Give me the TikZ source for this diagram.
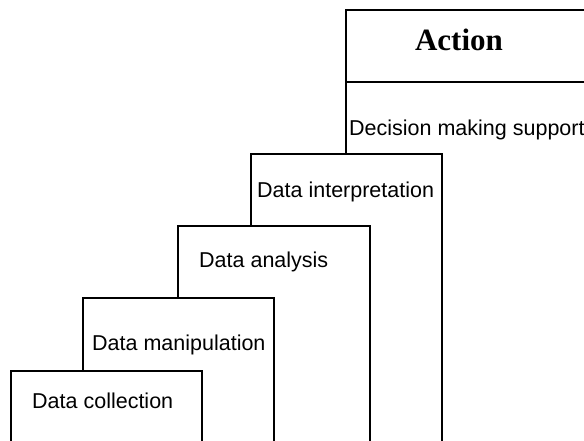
\documentclass[tikz,border=0pt]{standalone}
\usepackage{fontspec}
\setmainfont{Liberation Serif}
\setsansfont{Liberation Sans}

\tikzset{
  stepbox/.style={draw=black, fill=white, line width=1.5pt},
  steptext/.style={anchor=base west, inner sep=0pt, font=\sffamily\fontsize{21.5}{26}\selectfont},
  titletext/.style={anchor=base, inner sep=0pt, font=\bfseries\fontsize{31}{36}\selectfont}
}

\begin{document}
\begin{tikzpicture}[x=1pt,y=1pt,yscale=-1]
    \useasboundingbox (0,0) rectangle (584,441);
    \clip (0,0) rectangle (584,441);
    % steps, back to front
    \draw [stepbox] (346,10) rectangle (600,470);
    \draw [line width=1.5pt] (346,82) -- (600,82);
    \draw [stepbox] (251,154) rectangle (442,470);
    \draw [stepbox] (178,226) rectangle (370,470);
    \draw [stepbox] (83,298) rectangle (274,470);
    \draw [stepbox] (11,371) rectangle (202,470);
    % labels
    \node (action) [titletext] at (459,51) {Action};
    \node (decision) [steptext] at (349,136) {Decision making support};
    \node (interpretation) [steptext] at (257,197) {Data interpretation};
    \node (analysis) [steptext] at (199,267) {Data analysis};
    \node (manipulation) [steptext] at (92,350) {Data manipulation};
    \node (collection) [steptext] at (32,408) {Data collection};
\end{tikzpicture}
\end{document}
